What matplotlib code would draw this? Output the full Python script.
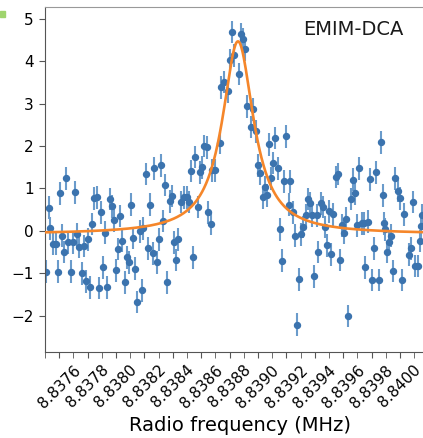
import numpy as np
import matplotlib
matplotlib.use('Agg')
import matplotlib.pyplot as plt
from matplotlib.ticker import MultipleLocator
from matplotlib.patches import Rectangle

# frequency base (MHz) and offsets of each point (Hz)
f_base = 8.8375
f_offset_hz = [7, 28, 35, 56, 77, 92, 106, 120, 134, 148, 162, 183, 197, 211, 225, 239,
               261, 275, 289, 303, 317, 331, 345, 366, 380, 394, 408, 423, 437, 458, 472,
               486, 500, 514, 528, 542, 563, 577, 592, 606, 620, 634, 648, 669, 683, 690,
               711, 725, 739, 761, 768, 789, 803, 817, 831, 845, 859, 880, 894, 908, 923,
               937, 958, 979, 1000, 1014, 1028, 1042, 1056, 1077, 1092, 1106, 1120, 1141,
               1148, 1169, 1176, 1197, 1232, 1239, 1261, 1289, 1303, 1317, 1331, 1366,
               1380, 1394, 1408, 1423, 1451, 1465, 1486, 1500, 1514, 1535, 1549, 1563,
               1577, 1592, 1606, 1620, 1641, 1655, 1669, 1683, 1697, 1718, 1725, 1746,
               1761, 1775, 1789, 1803, 1817, 1838, 1852, 1866, 1880, 1894, 1915, 1923,
               1944, 1958, 1972, 1986, 2000, 2014, 2028, 2049, 2063, 2077, 2092, 2106,
               2120, 2134, 2155, 2169, 2183, 2197, 2211, 2232, 2246, 2254, 2275, 2289,
               2303, 2317, 2331, 2352, 2366, 2380, 2387, 2394, 2408, 2423, 2437, 2451,
               2465, 2486, 2500, 2514, 2528, 2563, 2577, 2592, 2606, 2627, 2641, 2648, 2655]

signal = [-0.97, 0.54, 0.06, -0.31, -0.31, -0.97, 0.89, -0.12, -0.50, 1.24, -0.27, -0.97,
          -0.27, 0.91, -0.08, -0.38, -1.00, -0.36, -1.19, -0.20, -1.33, 0.16, 0.77, 0.79,
          -1.35, 0.44, -0.86, -0.05, -1.33, 0.75, 0.58, 0.25, -0.93, -0.43, 0.35, -0.24,
          -1.21, -0.62, -0.74, 0.61, -0.17, -0.90, -1.68, -0.01, -1.40, 0.06, 1.34, -0.41,
          0.61, -0.53, 1.48, -0.74, -0.20, 1.55, 0.23, 1.08, -1.21, 0.70, 0.82, -0.27,
          -0.69, -0.20, 0.68, 0.79, 0.79, 0.68, 1.41, -0.62, 1.74, 0.56, 1.38, 1.50, 2.00,
          1.97, 0.44, 0.16, 1.43, 1.43, 2.07, 3.39, 3.51, 3.29, 4.03, 4.69, 4.14, 3.70,
          4.64, 4.52, 4.28, 2.94, 2.45, 2.87, 2.35, 1.55, 1.36, 0.79, 1.03, 0.84, 2.04,
          1.24, 1.60, 2.19, 1.48, 0.04, -0.71, 1.17, 2.23, 0.61, 1.17, 0.44, -0.12, -2.22,
          -1.14, -0.08, 0.09, 0.37, 0.75, 0.65, 0.37, -1.07, 0.37, -0.50, 0.65, 0.56, 0.09,
          -0.34, 0.46, -0.55, 0.39, 1.27, 1.34, -0.69, 0.13, -0.05, 0.28, -2.01, 0.75,
          1.20, 0.89, 0.13, 1.48, 0.18, 0.18, -0.86, 0.21, 1.22, -1.16, -0.41, 1.38, -1.16,
          2.09, 0.84, 0.18, 0.04, -0.50, -0.27, -0.12, -0.95, 1.24, 0.94, 0.77, -1.16,
          0.39, -0.57, -0.41, 0.68, -0.83, -0.83, -0.24, 0.11, 0.37]
signal_err = 0.27

# Lorentzian fit parameters
fit_amp = 4.55
fit_center_hz = 1359
fit_hwhm_hz = 134
fit_offset = -0.08

freq = f_base + np.array(f_offset_hz) * 1e-6

fig = plt.figure(figsize=(4.23, 4.38), dpi=100)
ax = fig.add_axes([45 / 423, 86 / 438, 390.5 / 423, 345 / 438])

ax.errorbar(freq, signal, yerr=signal_err, fmt='o', color='#3b73ae', ms=4.3,
            ecolor='#6a9bcb', elinewidth=1.5, capsize=0, zorder=2)

xf = np.linspace(f_base, f_base + 0.00275, 600)
dx = (xf - f_base) * 1e6 - fit_center_hz
yf = fit_offset + fit_amp / (1 + (dx / fit_hwhm_hz) ** 2)
ax.plot(xf, yf, color='#f5862a', lw=1.9, zorder=3)

ax.set_xlim(f_base, f_base + 0.00275)
ax.set_ylim(-2.86, 5.28)
ax.xaxis.set_minor_locator(MultipleLocator(0.0001))
ax.set_xticks(np.arange(8.8376, 8.84005, 0.0002))
ax.xaxis.set_major_formatter(matplotlib.ticker.FormatStrFormatter('%.4f'))
ax.set_yticks(range(-2, 6))
ax.tick_params(axis='x', labelrotation=45, labelsize=11, length=4, color='#555555')
ax.tick_params(axis='x', which='minor', length=4, color='#555555')
ax.tick_params(axis='y', labelsize=11, length=4.5, color='#555555')
for s in ax.spines.values():
    s.set_color('#555555')
ax.spines['top'].set_color('#999999')

ax.set_xlabel('Radio frequency (MHz)', fontsize=14, labelpad=4)
ax.text(0.79, 0.962, 'EMIM-DCA', transform=ax.transAxes, fontsize=14,
        ha='center', va='top', color='#1a1a1a')

fig.patches.append(Rectangle((0, 1 - 17 / 438), 5 / 423, 6 / 438,
                             transform=fig.transFigure, color='#9fd46e'))

fig.savefig('out.png', dpi=100)
